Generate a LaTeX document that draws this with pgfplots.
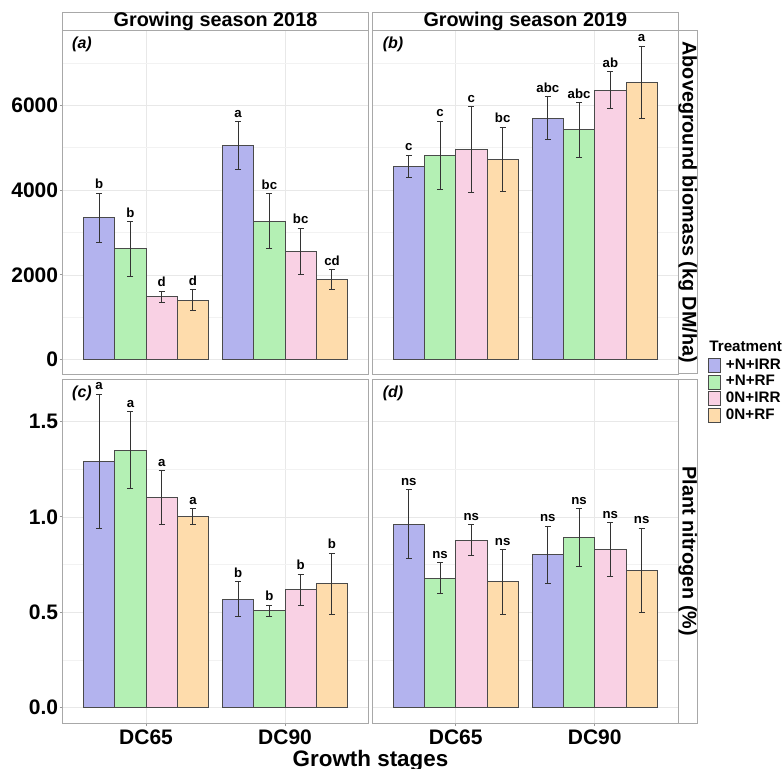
\documentclass[border=0pt]{standalone}
\usepackage{fontspec}
\setmainfont{Liberation Sans}
\usepackage{pgfplots}
\usepackage{pgfplotstable}
\pgfplotsset{compat=1.18}

\definecolor{c1}{HTML}{B3B3EE}
\definecolor{c2}{HTML}{B4F0B4}
\definecolor{c3}{HTML}{F9D1E4}
\definecolor{c4}{HTML}{FEDCAC}
\definecolor{edge}{HTML}{4A4A4A}
\definecolor{errc}{HTML}{333333}
\definecolor{bord}{HTML}{A8A8A8}
\definecolor{grid1}{HTML}{E8E8E8}
\definecolor{grid2}{HTML}{F2F2F2}
\definecolor{tickc}{HTML}{999999}

% one table per panel: rows = growth stage, columns = treatment (mean, lower, upper, letter)
\pgfplotstableread{
x y1 lo1 hi1 l1 y2 lo2 hi2 l2 y3 lo3 hi3 l3 y4 lo4 hi4 l4
1 3346 2764 3921 b 2614 1961 3252 b 1480 1354 1614 d 1402 1150 1654 d
2 5055 4488 5614 a 3268 2622 3913 bc 2559 2016 3102 bc 1890 1654 2126 cd
}\tA
\pgfplotstableread{
x y1 lo1 hi1 l1 y2 lo2 hi2 l2 y3 lo3 hi3 l3 y4 lo4 hi4 l4
1 4567 4299 4819 c 4827 4024 5630 c 4961 3953 5969 c 4732 3976 5480 bc
2 5701 5189 6205 abc 5425 4780 6063 abc 6354 5921 6795 ab 6551 5693 7402 a
}\tB
\pgfplotstableread{
x y1 lo1 hi1 l1 y2 lo2 hi2 l2 y3 lo3 hi3 l3 y4 lo4 hi4 l4
1 1.292 0.941 1.643 a 1.351 1.150 1.552 a 1.101 0.960 1.243 a 1.000 0.960 1.042 a
2 0.568 0.479 0.661 b 0.510 0.479 0.538 b 0.621 0.538 0.699 b 0.650 0.490 0.809 b
}\tC
\pgfplotstableread{
x y1 lo1 hi1 l1 y2 lo2 hi2 l2 y3 lo3 hi3 l3 y4 lo4 hi4 l4
1 0.960 0.780 1.142 ns 0.680 0.600 0.760 ns 0.879 0.799 0.960 ns 0.661 0.490 0.829 ns
2 0.801 0.650 0.951 ns 0.890 0.740 1.042 ns 0.829 0.689 0.970 ns 0.720 0.500 0.941 ns
}\tD

% #1 table, #2 treatment index, #3 dodge offset, #4 fill colour
\newcommand{\series}[4]{%
  \addplot[ybar, bar width=0.225, bar shift=0pt, fill=#4, draw=edge, line width=0.5pt,
    error bars/.cd, y dir=both, y explicit, error mark=-,
    error bar style={line width=0.5pt, draw=errc},
    error mark options={rotate=90, line width=0.5pt, mark size=1.5pt, draw=errc}]
    table[x expr=\thisrow{x}+#3, y=y#2,
      y error plus expr=\thisrow{hi#2}-\thisrow{y#2},
      y error minus expr=\thisrow{y#2}-\thisrow{lo#2}] {#1};
  \addplot[draw=none, mark=none, forget plot, nodes near coords, point meta=explicit symbolic,
    nodes near coords style={font=\bfseries\fontsize{6.6}{7}\selectfont, anchor=south,
      inner sep=0pt, yshift=2pt, text=black}]
    table[x expr=\thisrow{x}+#3, y=hi#2, meta=l#2] {#1};
}
\newcommand{\allbars}[1]{%
  \series{#1}{1}{-0.3375}{c1}
  \series{#1}{2}{-0.1125}{c2}
  \series{#1}{3}{0.1125}{c3}
  \series{#1}{4}{0.3375}{c4}
}

\pgfplotsset{
  panel/.style={
    scale only axis, width=152.9pt, height=172pt, xmin=0.4, xmax=2.6,
    axis line style={draw=bord, line width=0.5pt},
    xtick={1,2}, grid=both,
    major grid style={draw=grid1, line width=0.4pt},
    minor grid style={draw=grid2, line width=0.3pt},
    tick align=outside, tick pos=left, major tick length=1.5pt, minor tick length=0pt,
    tick style={draw=tickc, line width=0.5pt},
    ticklabel style={font=\bfseries\fontsize{10.5}{12}\selectfont, text=black},
    yticklabel style={inner sep=0.6pt},
    xticklabel style={inner sep=1.8pt},
    /pgf/number format/assume math mode=true,
  },
  toprow/.style={ymin=-346, ymax=7772, ytick={0,2000,4000,6000}, minor ytick={1000,3000,5000,7000},
    /pgf/number format/1000 sep={}, xticklabels={}, xtick style={draw=none}},
  botrow/.style={ymin=-0.0822, ymax=1.722, ytick={0,0.5,1,1.5}, minor ytick={0.25,0.75,1.25},
    /pgf/number format/fixed, /pgf/number format/fixed zerofill, /pgf/number format/precision=1,
    xticklabels={DC65,DC90}},
  rightcol/.style={yticklabels={}, ytick style={draw=none}},
  key/.style={legend image code/.code={\draw[fill=#1, draw=edge, line width=0.4pt] (0pt,-3.5pt) rectangle (6pt,3.5pt);}},
}

\begin{document}
\begin{tikzpicture}
\useasboundingbox (0,0) rectangle (392pt,-384.5pt);

\begin{axis}[panel, toprow, at={(31.33pt,-15.17pt)}, anchor=north west]
\allbars{\tA}
\end{axis}

\begin{axis}[panel, toprow, rightcol, at={(186.17pt,-15.17pt)}, anchor=north west,
  legend style={at={(1.097,0.0485)}, anchor=north west, draw=none, fill=none, inner sep=0pt,
    row sep=0.5pt, font=\bfseries\fontsize{7.6}{8}\selectfont, nodes={inner sep=0.5pt},
    /tikz/every odd column/.append style={column sep=2pt}},
  legend cell align=left]
\addlegendimage{key=c1}\addlegendentry{+N+IRR}
\addlegendimage{key=c2}\addlegendentry{+N+RF}
\addlegendimage{key=c3}\addlegendentry{0N+IRR}
\addlegendimage{key=c4}\addlegendentry{0N+RF}
\allbars{\tB}
\end{axis}

\begin{axis}[panel, botrow, at={(31.33pt,-189.67pt)}, anchor=north west]
\allbars{\tC}
\end{axis}

\begin{axis}[panel, botrow, rightcol, at={(186.17pt,-189.67pt)}, anchor=north west]
\allbars{\tD}
\end{axis}

% facet strips
\begin{scope}[every node/.style={font=\bfseries\fontsize{9.9}{11}\selectfont, inner sep=0pt}]
\draw[bord, line width=0.5pt, fill=white] (31.33pt,-6.33pt) rectangle (184.17pt,-15.17pt);
\draw[bord, line width=0.5pt, fill=white] (186.17pt,-6.33pt) rectangle (339.17pt,-15.17pt);
\node at (107.75pt,-10.75pt) {Growing season 2018};
\node at (262.65pt,-10.75pt) {Growing season 2019};
\draw[bord, line width=0.5pt, fill=white] (339.17pt,-15.17pt) rectangle (348.5pt,-187pt);
\draw[bord, line width=0.5pt, fill=white] (339.17pt,-189.67pt) rectangle (348.5pt,-361.67pt);
\node[rotate=-90] at (343.8pt,-101.1pt) {Aboveground biomass (kg DM/ha)};
\node[rotate=-90] at (343.8pt,-275.7pt) {Plant nitrogen (\%)};
\end{scope}

% panel tags
\begin{scope}[every node/.style={font=\bfseries\itshape\fontsize{8}{9}\selectfont, inner sep=0pt}]
\node at (41pt,-22pt) {(a)};
\node at (196.5pt,-22pt) {(b)};
\node at (41pt,-196.5pt) {(c)};
\node at (196.5pt,-196.5pt) {(d)};
\end{scope}

\node[anchor=west, inner sep=0pt, font=\bfseries\fontsize{7.6}{8}\selectfont] at (354.5pt,-173.3pt) {Treatment};
\node[anchor=base, inner sep=0pt, font=\bfseries\fontsize{11.2}{12}\selectfont] at (185.25pt,-383.3pt) {Growth stages};
\end{tikzpicture}
\end{document}
